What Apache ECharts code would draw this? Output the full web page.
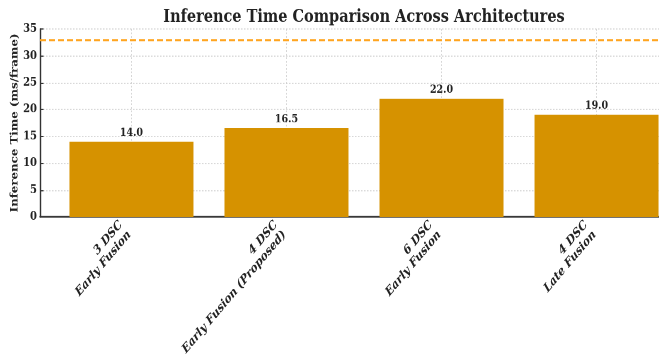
<!DOCTYPE html>
<html>
<head>
<meta charset="utf-8">
<script src="https://cdn.jsdelivr.net/npm/echarts@6/dist/echarts.min.js"></script>
<style>
  html, body { margin: 0; padding: 0; background: #fff; width: 659px; height: 358px; }
  /* the figure is drawn at 659x303 and stretched vertically to fill 358px */
  #chart { width: 659px; height: 303px; transform: scale(1, 1.1815); transform-origin: 0 0; }
</style>
</head>
<body>
<div id="chart"></div>
<script>
// Architectures compared (two-line labels: depth / fusion type)
const archDepth = ['3 DSC', '4 DSC', '6 DSC', '4 DSC'];
const archFusion = ['Early Fusion', 'Early Fusion (Proposed)', 'Early Fusion', 'Late Fusion'];
// Inference time per frame, ms
const inferenceMs = [14.0, 16.5, 22.0, 19.0];
// Real-time budget (30 FPS)
const realTimeMs = 33;
// Y axis ticks
const yTicks = [0, 5, 10, 15, 20, 25, 30, 35];

const FONT = '"DejaVu Serif", serif';
const BAR = '#d69200';
const INK = '#222';

const positions = archDepth.map((_, i) => i);

// title centred over the plot area, which runs past the right edge
const ctx = document.createElement('canvas').getContext('2d');
function textWidth(str, font) { ctx.font = font; return ctx.measureText(str).width; }
const titleText = 'Inference Time Comparison Across Architectures';
const titleSize = 14.5;
const plotLeft = 40, plotWidth = 648;
const titleLeft = plotLeft + plotWidth / 2 - textWidth(titleText, 'bold ' + titleSize + 'px ' + FONT) / 2;

const chart = echarts.init(document.getElementById('chart'), null, { renderer: 'canvas', devicePixelRatio: 2 });
chart.setOption({
  animation: false,
  backgroundColor: '#fff',
  title: {
    text: titleText,
    left: titleLeft,
    top: 7,
    padding: 0,
    textStyle: { fontFamily: FONT, fontWeight: 'bold', fontSize: titleSize, color: INK }
  },
  grid: { left: plotLeft, top: 24.5, width: plotWidth, height: 159, containLabel: false, outerBoundsMode: 'none' },
  xAxis: {
    type: 'value',
    min: -0.59,
    max: 3.59,
    axisLine: { show: true, onZero: false, lineStyle: { color: '#333', width: 1.4 } },
    axisTick: { show: true, inside: true, length: 3.5, customValues: positions, lineStyle: { color: '#333' } },
    axisLabel: {
      customValues: positions,
      rotate: 45,
      margin: 3,
      align: 'right',
      verticalAlign: 'middle',
      padding: [0, 9, 0, 0],
      formatter: v => {
        const i = Math.round(v);
        return archDepth[i] + '\n' + archFusion[i];
      },
      fontFamily: FONT, fontStyle: 'italic', fontWeight: 'bold', fontSize: 10.5, lineHeight: 12, color: INK
    },
    splitLine: { show: true, lineStyle: { color: '#cccccc', type: [1.5, 1.5], width: 0.8 } }
  },
  yAxis: {
    type: 'value',
    min: yTicks[0],
    max: yTicks[yTicks.length - 1],
    interval: 5,
    name: 'Inference Time (ms/frame)',
    nameLocation: 'middle',
    nameGap: 20,
    nameMoveOverlap: false,
    nameTextStyle: { fontFamily: FONT, fontWeight: 'bold', fontSize: 10, color: INK },
    axisLine: { show: true, onZero: false, lineStyle: { color: '#333', width: 1.4 } },
    axisTick: { show: true, inside: true, length: 3.5, lineStyle: { color: '#333' } },
    axisLabel: { margin: 3, fontFamily: FONT, fontWeight: 'bold', fontSize: 10, color: INK },
    splitLine: { show: true, lineStyle: { color: '#cccccc', type: [1.5, 1.5], width: 0.8 } }
  },
  series: [{
    type: 'bar',
    data: inferenceMs.map((v, i) => [positions[i], v]),
    barWidth: 124,
    itemStyle: { color: BAR },
    label: {
      show: true,
      position: 'top',
      distance: 2.5,
      formatter: p => p.value[1].toFixed(1),
      fontFamily: FONT, fontWeight: 'bold', fontSize: 9.5, color: INK
    },
    markLine: {
      silent: true,
      symbol: 'none',
      label: { show: false },
      lineStyle: { color: '#ffa520', type: [6, 3], width: 1.7 },
      data: [{ yAxis: realTimeMs }]
    }
  }]
});
</script>
</body>
</html>
